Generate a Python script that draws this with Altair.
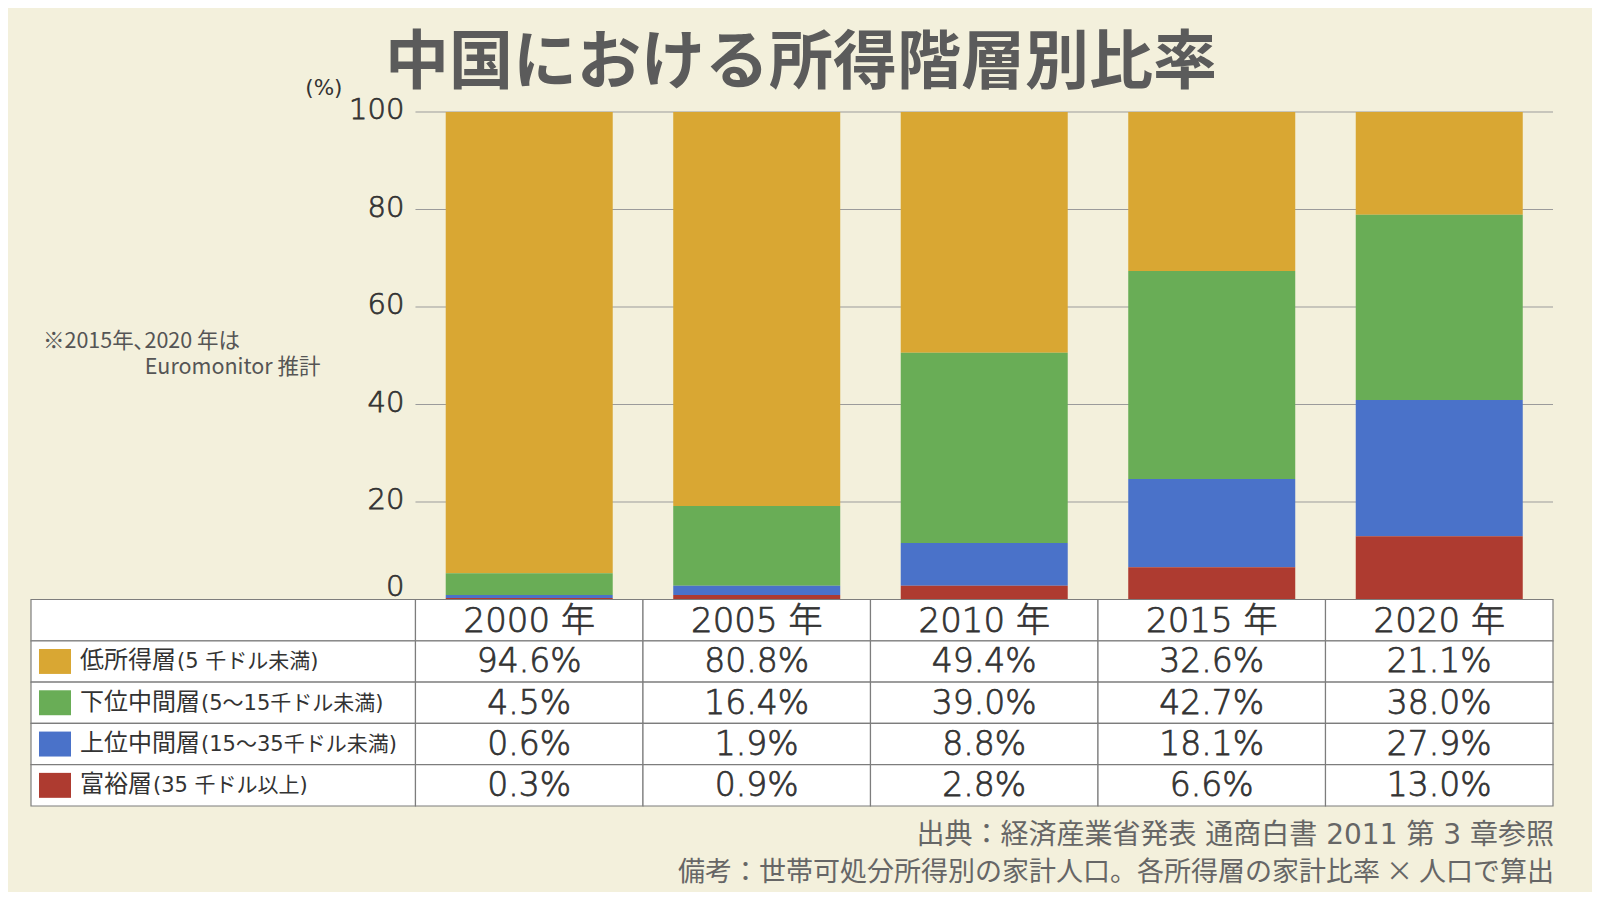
import altair as alt
import pandas as pd

# ---------------- data ----------------
years = ["2000", "2005", "2010", "2015", "2020"]
year_labels = ["2000 年", "2005 年", "2010 年", "2015 年", "2020 年"]
groups = ["低所得層", "下位中間層", "上位中間層", "富裕層"]
group_details = ["(5 千ドル未満)", "(5～15千ドル未満)", "(15～35千ドル未満)", "(35 千ドル以上)"]
low_income = [94.6, 80.8, 49.4, 32.6, 21.1]
lower_middle = [4.5, 16.4, 39.0, 42.7, 38.0]
upper_middle = [0.6, 1.9, 8.8, 18.1, 27.9]
affluent = [0.3, 0.9, 2.8, 6.6, 13.0]
y_ticks = [0, 20, 40, 60, 80, 100]
colors = ["#D9A733", "#69AD56", "#4A72C9", "#AE3B30"]

title_text = "中国における所得階層別比率"
unit_text = "(%)"
note_lines = ["※2015年､2020 年は", "Euromonitor 推計"]
footer_lines = ["出典：経済産業省発表 通商白書 2011 第 3 章参照",
                "備考：世帯可処分所得別の家計人口。各所得層の家計比率 × 人口で算出"]

# ---------------- layout (pixels / style) ----------------
W, H = 1532, 694          # data rectangle: whole table width, plot + table height
PLOT_H = 487.5            # pixel height of the bar plot part
COL_PX = 229              # width of a year column
LABEL_PX = 387            # width of the label column
XMIN = -LABEL_PX / COL_PX
NCOL = len(years)
YMIN = -(H - PLOT_H) / PLOT_H * 100   # table region lies below 0 on the y scale
NROW = len(groups) + 1
ROW_U = -YMIN / NROW
FONT = "Noto Sans CJK JP"
NUMFONT = "DejaVu Sans, Noto Sans CJK JP"
NUMW = 300
BG = "#F3F0DC"
TXT = "#333333"
NUMSTYLE = dict(font=NUMFONT, fontWeight=NUMW, color=TXT, stroke=TXT, strokeWidth=0.75)

series = [low_income, lower_middle, upper_middle, affluent]

bar_rows = []
for gi, g in enumerate(groups):
    for yi, y in enumerate(years):
        bar_rows.append({"year": y, "col": yi + 0.5, "group": g,
                         "value": series[gi][yi], "rank": len(groups) - 1 - gi})
bars_df = pd.DataFrame(bar_rows)

tick_df = pd.DataFrame({"tick": y_ticks, "x0": 0.0, "x1": float(NCOL)})

row_names = ["header"] + groups
def row_span(ri):
    top = -ri * ROW_U
    return top, top - ROW_U, top - ROW_U / 2

cell_rows = []
for ri, r in enumerate(row_names):
    t, b, c = row_span(ri)
    cell_rows.append({"row": r, "x0": XMIN, "x1": 0.0, "xc": XMIN / 2,
                      "y0": t, "y1": b, "yc": c, "text": "", "kind": "label"})
    for yi in range(NCOL):
        txt = year_labels[yi] if ri == 0 else f"{series[ri - 1][yi]:.1f}%"
        cell_rows.append({"row": r, "x0": float(yi), "x1": yi + 1.0, "xc": yi + 0.5,
                          "y0": t, "y1": b, "yc": c, "text": txt,
                          "kind": "header" if ri == 0 else "value"})
cells_df = pd.DataFrame(cell_rows)

legend_df = pd.DataFrame({
    "row": groups, "group": groups, "detail": group_details, "xl": XMIN,
    "yc": [row_span(i + 1)[2] for i in range(len(groups))],
})

one = pd.DataFrame({"a": [0]})

# ---------------- scales ----------------
xscale = alt.Scale(domain=[XMIN, NCOL], nice=False, zero=False)
yscale = alt.Scale(domain=[YMIN, 100], nice=False, zero=False)
cscale = alt.Scale(domain=groups, range=colors)

def X(f):
    return alt.X(f, scale=xscale, axis=None)

def Y(f):
    return alt.Y(f, scale=yscale, axis=None)

def XD(v):
    return alt.XDatum(v, type="quantitative", scale=xscale, axis=None)

def YD(v):
    return alt.YDatum(v, type="quantitative", scale=yscale, axis=None)

# ---------------- plot part ----------------
grid = alt.Chart(tick_df).transform_filter(alt.datum.tick > 0).mark_rule(
    color="#9b9b9b", strokeWidth=1
).encode(x=X("x0:Q"), x2="x1:Q", y=Y("tick:Q"))

bars = alt.Chart(bars_df).mark_bar(size=167).encode(
    x=X("col:Q"),
    y=alt.Y("value:Q", stack="zero", scale=yscale, axis=None),
    color=alt.Color("group:N", scale=cscale, legend=None),
    order=alt.Order("rank:Q"),
)

ylab = alt.Chart(tick_df).transform_filter(alt.datum.tick > 0).mark_text(
    align="right", baseline="middle", dx=-11, dy=-2, fontSize=29, **NUMSTYLE
).encode(x=X("x0:Q"), y=Y("tick:Q"), text=alt.Text("tick:Q"))

ylab0 = alt.Chart(tick_df).transform_filter(alt.datum.tick == 0).mark_text(
    align="right", baseline="alphabetic", dx=-11, dy=-4, fontSize=29, **NUMSTYLE
).encode(x=X("x0:Q"), y=Y("tick:Q"), text=alt.Text("tick:Q"))

def annot(text, xv, yv, **kw):
    return alt.Chart(one).mark_text(baseline="middle", **kw).encode(
        x=XD(xv), y=YD(yv), text=alt.value(text)
    )

unit = annot(unit_text, 0.0, 100.0, align="right", dx=-73, dy=-23, fontSize=21.5,
             font=NUMFONT, color=TXT)
note1 = annot(note_lines[0], XMIN, 100.0, align="left", dx=12, dy=230, fontSize=21.5,
              font=FONT, color="#555555")
note2 = annot(note_lines[1], 0.0, 100.0, align="right", dx=-95, dy=256, fontSize=21.5,
              font=FONT, color="#555555")
title = annot(title_text, (XMIN + NCOL) / 2, 100.0, align="center", dx=9, dy=-48,
              fontSize=64, font=FONT, fontWeight="bold", color="#5b5b5b")
foot1 = annot(footer_lines[0], float(NCOL), YMIN, align="right", dx=1, dy=30,
              fontSize=28, font=NUMFONT, color="#666666")
foot2 = annot(footer_lines[1], float(NCOL), YMIN, align="right", dx=1, dy=67,
              fontSize=27, font=FONT, color="#666666")

# ---------------- table part ----------------
cells = alt.Chart(cells_df).mark_rect(fill="white", stroke="#7d7d7d", strokeWidth=1.2).encode(
    x=X("x0:Q"), x2="x1:Q", y=Y("y0:Q"), y2="y1:Q",
)

header_text = alt.Chart(cells_df).transform_filter(alt.datum.kind == "header").mark_text(
    baseline="middle", align="center", fontSize=34, dy=2, **NUMSTYLE
).encode(x=X("xc:Q"), y=Y("yc:Q"), text="text:N")

value_text = alt.Chart(cells_df).transform_filter(alt.datum.kind == "value").mark_text(
    baseline="middle", align="center", fontSize=33, dy=1, **NUMSTYLE
).encode(x=X("xc:Q"), y=Y("yc:Q"), text="text:N")

swatch = alt.Chart(legend_df).mark_point(
    shape="M-1,-0.78H1V0.78H-1Z", filled=True, size=1024, opacity=1, xOffset=24
).encode(
    x=X("xl:Q"), y=Y("yc:Q"),
    color=alt.Color("group:N", scale=cscale, legend=None),
)

names = alt.Chart(legend_df).mark_text(
    align="left", baseline="middle", dx=49, fontSize=24, font=FONT, color=TXT
).encode(x=X("xl:Q"), y=Y("yc:Q"), text="group:N")

details = []
for g in groups:
    details.append(
        alt.Chart(legend_df).transform_filter(alt.datum.row == g).mark_text(
            align="left", baseline="middle", dx=49 + 24 * len(g) + 1, dy=1, fontSize=21,
            font=NUMFONT, color=TXT
        ).encode(x=X("xl:Q"), y=Y("yc:Q"), text="detail:N")
    )

chart = alt.layer(
    grid, bars, ylab, ylab0, unit, note1, note2, title, foot1, foot2,
    cells, header_text, value_text, swatch, names, *details
).properties(
    width=W, height=H,
    background=BG,
    padding={"left": 18, "top": 104, "right": 34, "bottom": 86},
    autosize=alt.AutoSizeParams(type="none"),
).configure_view(stroke=None)

chart.save("out.html", embed_options={"renderer": "svg", "actions": False})
